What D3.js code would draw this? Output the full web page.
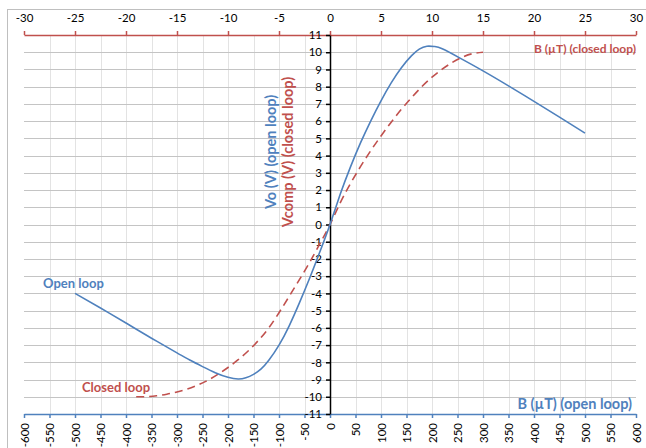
<!DOCTYPE html>
<html>
<head>
<meta charset="utf-8">
<script src="https://cdn.jsdelivr.net/npm/d3@7"></script>
<style>
  html, body { margin: 0; padding: 0; background: #fff; }
  svg { display: block; font-family: Lato, "Liberation Sans", sans-serif; }
</style>
</head>
<body>
<svg id="chart" width="646" height="448"></svg>
<script>
// Open-loop sensor response: field B (µT, bottom axis) vs output Vo (V)
const openB = [-500, -450, -400, -350, -300, -275, -250, -225, -200, -180, -165, -150, -135, -120, -100,
               -80, -60, -40, -20, 0, 20, 40, 60, 80, 100, 120, 140, 160, 175, 190, 205, 220,
               255, 300, 350, 400, 450, 500];
const openV = [-4.0, -4.85, -5.72, -6.6, -7.45, -7.87, -8.25, -8.6, -8.87, -8.97, -8.9, -8.7, -8.38, -7.88, -7.0,
               -5.88, -4.55, -3.12, -1.6, 0, 1.75, 3.33, 4.75, 6.02, 7.18, 8.22, 9.1, 9.8, 10.18, 10.35, 10.33, 10.2,
               9.66, 8.92, 8.05, 7.15, 6.23, 5.3];

// Closed-loop response: field B (µT, top axis) vs compensation voltage Vcomp (V)
const closedB = [-19, -18, -17, -16, -15, -14, -13, -12, -11, -10, -9, -8, -7, -6, -5, -4, -3, -2, -1, 0,
                 1, 2, 3, 4, 5, 6, 7, 8, 9, 10, 11, 12, 13, 14, 15];
const closedV = [-10.0, -9.99, -9.94, -9.85, -9.72, -9.55, -9.33, -9.05, -8.7, -8.3, -7.85, -7.33, -6.72, -6.0,
                 -5.12, -4.17, -3.2, -2.2, -1.12, 0,
                 1.25, 2.37, 3.37, 4.29, 5.14, 5.94, 6.69, 7.37, 8.0, 8.55, 9.02, 9.41, 9.72, 9.92, 10.0];

// Axis tick labels
const bottomTicks = [-600, -550, -500, -450, -400, -350, -300, -250, -200, -150, -100, -50, 0,
                     50, 100, 150, 200, 250, 300, 350, 400, 450, 500, 550, 600];
const topTicks = [-30, -25, -20, -15, -10, -5, 0, 5, 10, 15, 20, 25, 30];
const yTicks = [-11, -10, -9, -8, -7, -6, -5, -4, -3, -2, -1, 0, 1, 2, 3, 4, 5, 6, 7, 8, 9, 10, 11];
const vGrid = [-550, -500, -450, -400, -350, -300, -250, -200, -150, -100, -50,
               50, 100, 150, 200, 250, 300, 350, 400, 450, 500, 550];
const hGrid = [-10, -9, -8, -7, -6, -5, -4, -3, -2, -1, 0, 1, 2, 3, 4, 5, 6, 7, 8, 9, 10];

const BLUE = "#4f81bd", RED = "#c0504d";

const svg = d3.select("#chart");
const plotLeft = 24, plotRight = 636, plotTop = 35, plotBottom = 414;

const xOpen = d3.scaleLinear().domain([-600, 600]).range([plotLeft, plotRight]);
const xClosed = d3.scaleLinear().domain([-30, 30]).range([plotLeft, plotRight]);
const y = d3.scaleLinear().domain([-11, 11]).range([plotBottom, plotTop]);

// plain hyphen-minus labels
const fmt = d => String(d);

// chart frame
svg.append("rect")
  .attr("x", 7.5).attr("y", 9.5).attr("width", 660).attr("height", 470)
  .attr("fill", "none").attr("stroke", "#bfbfbf").attr("stroke-width", 1);

// gridlines
svg.append("g").selectAll("line").data(vGrid).join("line")
  .attr("x1", d => Math.round(xOpen(d)) + 0.5).attr("x2", d => Math.round(xOpen(d)) + 0.5)
  .attr("y1", plotTop).attr("y2", plotBottom)
  .attr("stroke", "#e3e3e3").attr("stroke-width", 1);
svg.append("g").selectAll("line").data(hGrid).join("line")
  .attr("x1", plotLeft).attr("x2", plotRight)
  .attr("y1", d => Math.round(y(d)) + 0.5).attr("y2", d => Math.round(y(d)) + 0.5)
  .attr("stroke", "#c4c4c4").attr("stroke-width", 1);

const tickFont = "Lato, 'Liberation Sans', sans-serif";

// top axis (closed loop field)
const gTop = svg.append("g").attr("transform", `translate(0,${plotTop})`)
  .call(d3.axisTop(xClosed).tickValues(topTicks).tickSize(4).tickSizeOuter(0).tickPadding(9)
        .tickFormat(fmt));
gTop.select(".domain").attr("stroke", RED).attr("stroke-width", 1.5);
gTop.selectAll(".tick line").attr("stroke", RED).attr("stroke-width", 1.5);
gTop.selectAll(".tick text").attr("fill", "#000").attr("font-size", 11.5)
  .style("font-family", tickFont);

// bottom axis (open loop field), labels rotated
const gBot = svg.append("g").attr("transform", `translate(0,${plotBottom})`)
  .call(d3.axisBottom(xOpen).tickValues(bottomTicks).tickSize(4).tickSizeOuter(0)
        .tickFormat(fmt));
gBot.select(".domain").attr("stroke", BLUE).attr("stroke-width", 1.5);
gBot.selectAll(".tick line").attr("stroke", BLUE).attr("stroke-width", 1.5);
gBot.selectAll(".tick text")
  .attr("transform", "rotate(-90)")
  .attr("x", -9).attr("y", 0).attr("dy", "0.35em")
  .attr("text-anchor", "end")
  .attr("fill", "#000").attr("font-size", 11.5)
  .style("font-family", tickFont);

// vertical axis through B = 0
const gY = svg.append("g").attr("transform", `translate(${xOpen(0)},0)`)
  .call(d3.axisLeft(y).tickValues(yTicks).tickSize(4).tickSizeOuter(0).tickPadding(4)
        .tickFormat(fmt));
gY.select(".domain").attr("stroke", "#000").attr("stroke-width", 1.5);
gY.selectAll(".tick line").attr("stroke", "#000").attr("stroke-width", 1.5);
gY.selectAll(".tick text").attr("fill", "#000").attr("font-size", 11.5)
  .style("font-family", tickFont);

// series (smooth natural splines through the sampled points)
const lineOpen = d3.line().x(d => xOpen(d[0])).y(d => y(d[1])).curve(d3.curveNatural);
const lineClosed = d3.line().x(d => xClosed(d[0])).y(d => y(d[1])).curve(d3.curveNatural);

svg.append("path")
  .datum(d3.zip(closedB, closedV))
  .attr("d", lineClosed)
  .attr("fill", "none").attr("stroke", RED).attr("stroke-width", 1.6)
  .attr("stroke-dasharray", "8,5");

svg.append("path")
  .datum(d3.zip(openB, openV))
  .attr("d", lineOpen)
  .attr("fill", "none").attr("stroke", BLUE).attr("stroke-width", 1.6);

// titles and series labels
const bold = (sel) => sel.attr("font-weight", "bold").style("font-family", tickFont);

svg.append("text").call(bold)
  .attr("x", 636).attr("y", 53).attr("text-anchor", "end")
  .attr("font-size", 12).attr("fill", RED).text("B (µT) (closed loop)");

svg.append("text").call(bold)
  .attr("x", 632).attr("y", 409).attr("text-anchor", "end")
  .attr("font-size", 14.5).attr("fill", BLUE).text("B (µT) (open loop)");

svg.append("text").call(bold)
  .attr("transform", "translate(276,152) rotate(-90)").attr("text-anchor", "middle")
  .attr("font-size", 14.5).attr("fill", BLUE).text("Vo (V) (open loop)");

svg.append("text").call(bold)
  .attr("transform", "translate(293,152) rotate(-90)").attr("text-anchor", "middle")
  .attr("font-size", 14.5).attr("fill", RED).text("Vcomp (V) (closed loop)");

svg.append("text").call(bold)
  .attr("x", 43).attr("y", 288)
  .attr("font-size", 13).attr("fill", BLUE).text("Open loop");

svg.append("text").call(bold)
  .attr("x", 82).attr("y", 392)
  .attr("font-size", 13).attr("fill", RED).text("Closed loop");
</script>
</body>
</html>
